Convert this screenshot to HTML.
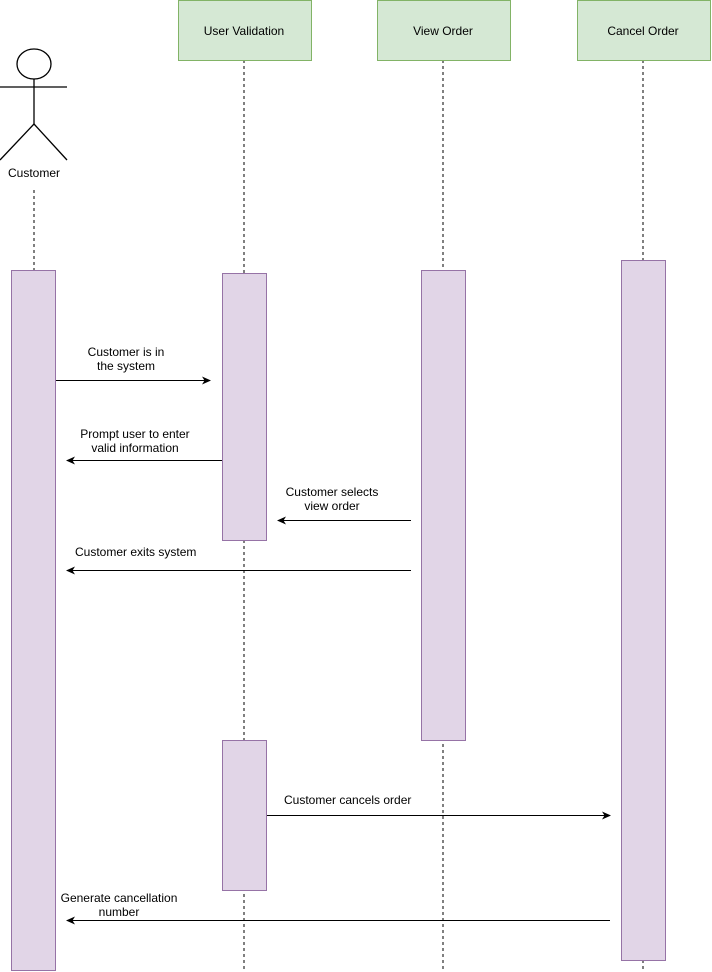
<!DOCTYPE html>
<html><head><meta charset="utf-8"><style>
html,body{margin:0;padding:0;background:#fff;}
svg{display:block;font-family:"Liberation Sans",Arial,sans-serif;font-size:12px;}
</style></head><body>
<svg width="712" height="972" viewBox="0 0 712 972" xmlns="http://www.w3.org/2000/svg">
<defs><marker id="a" markerWidth="10" markerHeight="10" refX="8" refY="4" orient="auto" markerUnits="userSpaceOnUse"><path d="M0,0 L9,4 L0,8 L2.5,4 Z" fill="#000"/></marker></defs>
<g stroke="#000" stroke-dasharray="3,3" fill="none">
<line x1="34" y1="190" x2="34" y2="270"/>
<line x1="244" y1="60" x2="244" y2="972"/>
<line x1="443" y1="60" x2="443" y2="972"/>
<line x1="643" y1="60" x2="643" y2="972"/>
</g>
<g stroke="#000" stroke-width="1.3" fill="none">
<ellipse cx="34" cy="64" rx="17" ry="15" fill="#fff"/>
<line x1="34" y1="79" x2="34" y2="124"/>
<line x1="0" y1="87" x2="67" y2="87"/>
<line x1="34" y1="124" x2="0" y2="160"/>
<line x1="34" y1="124" x2="67" y2="160"/>
</g>
<text x="34" y="177" text-anchor="middle">Customer</text>
<g fill="#d5e8d4" stroke="#82b366">
<rect x="178.5" y="0.5" width="133" height="60"/>
<rect x="377.5" y="0.5" width="133" height="60"/>
<rect x="577.5" y="0.5" width="133" height="60"/>
</g>
<text x="244" y="35" text-anchor="middle">User Validation</text>
<text x="443" y="35" text-anchor="middle">View Order</text>
<text x="643" y="35" text-anchor="middle">Cancel Order</text>
<g fill="#e1d5e7" stroke="#9673a6">
<rect x="11.5" y="270.5" width="44" height="700"/>
<rect x="222.5" y="273.5" width="44" height="267"/>
<rect x="222.5" y="740.5" width="44" height="150"/>
<rect x="421.5" y="270.5" width="44" height="470"/>
<rect x="621.5" y="260.5" width="44" height="700"/>
</g>
<g stroke="#000" marker-end="url(#a)">
<line x1="56" y1="380.5" x2="210" y2="380.5"/>
<line x1="222" y1="460.5" x2="67" y2="460.5"/>
<line x1="411" y1="520.5" x2="278" y2="520.5"/>
<line x1="411" y1="570.5" x2="67" y2="570.5"/>
<line x1="267" y1="815.5" x2="610" y2="815.5"/>
<line x1="610" y1="920.5" x2="67" y2="920.5"/>
</g>
<g text-anchor="middle">
<text x="126" y="356">Customer is in</text><text x="126" y="370">the system</text>
<text x="135" y="438">Prompt user to enter</text><text x="135" y="452">valid information</text>
<text x="332" y="496">Customer selects</text><text x="332" y="510">view order</text>
<text x="119" y="902">Generate cancellation</text><text x="119" y="916">number</text>
</g>
<text x="75" y="556">Customer exits system</text>
<text x="284" y="804">Customer cancels order</text>
</svg>
</body></html>
